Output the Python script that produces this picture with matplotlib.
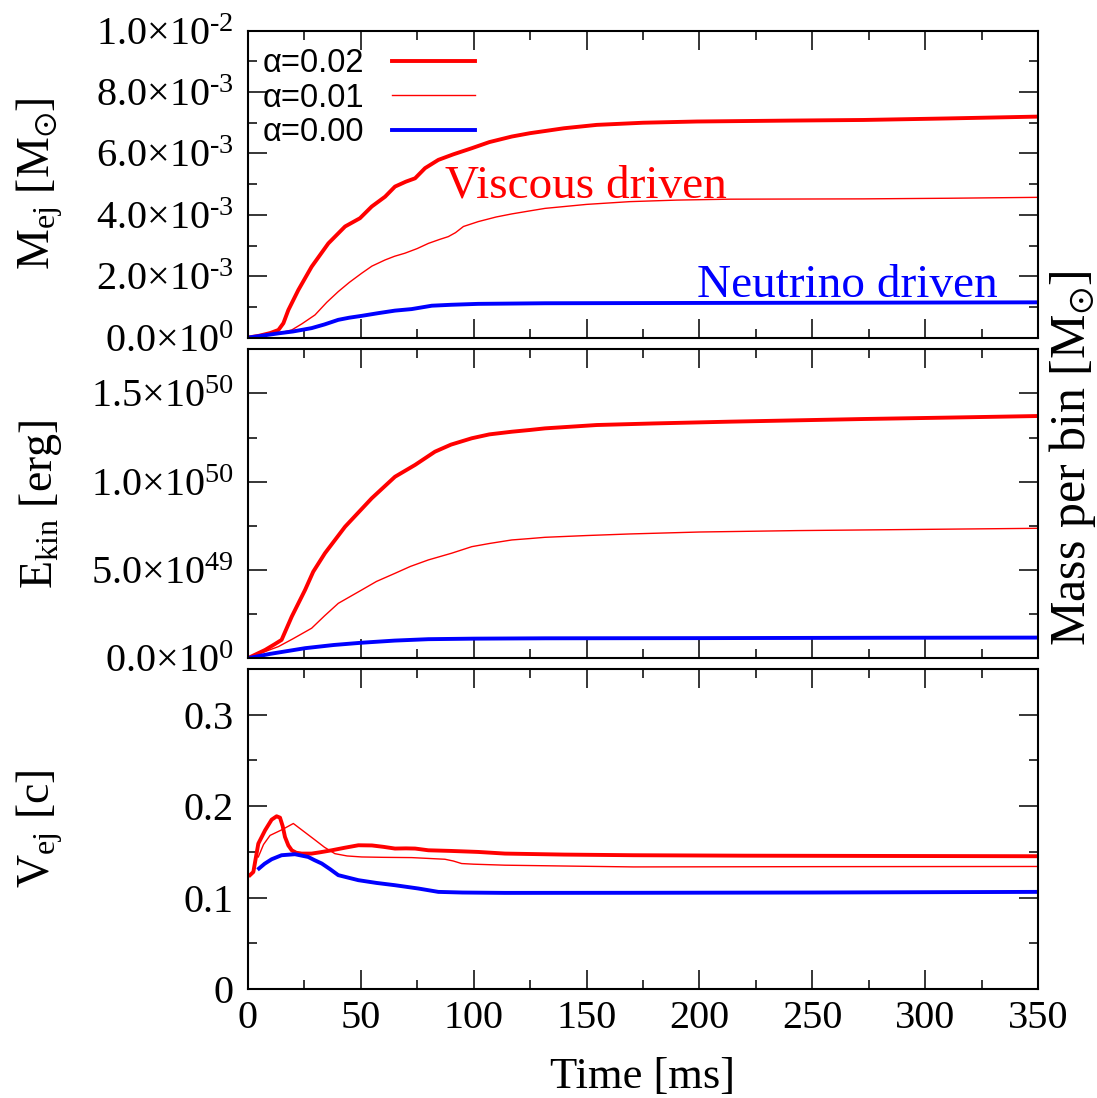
import numpy as np
import matplotlib
matplotlib.use("Agg")
import matplotlib.pyplot as plt
from matplotlib.ticker import MultipleLocator, FuncFormatter, NullFormatter
from matplotlib.font_manager import FontProperties
from matplotlib.lines import Line2D

plt.rcParams["font.family"] = ["Liberation Serif", "DejaVu Serif"]
plt.rcParams["mathtext.fontset"] = "custom"
plt.rcParams["mathtext.rm"] = "Liberation Serif"
plt.rcParams["mathtext.it"] = "Liberation Serif:italic"
plt.rcParams["mathtext.bf"] = "Liberation Serif:bold"
plt.rcParams["mathtext.fallback"] = "stix"

# ---------------- data ----------------
series_labels = ["α=0.02", "α=0.01", "α=0.00"]

# ejected mass [1e-3 Msun]
mej_t_002 = [0, 5, 10, 13.6, 15.8, 18, 22.4, 28.3, 35.7, 43.1, 49.7, 54.9, 60.8, 65.2, 70, 74.1,
             78.5, 84.4, 91, 99.2, 107, 116.9, 125, 131.6, 140, 154.5, 175, 198.8, 240, 272.5, 310, 350]
mej_v_002 = [0, 0.06, 0.15, 0.25, 0.47, 0.9, 1.55, 2.31, 3.07, 3.62, 3.89, 4.27, 4.59, 4.92, 5.08, 5.19,
             5.52, 5.79, 5.97, 6.17, 6.37, 6.55, 6.66, 6.73, 6.82, 6.93, 7.0, 7.04, 7.07, 7.09, 7.14, 7.2]
mej_t_001 = [0, 5, 10, 15, 19.5, 24, 29.8, 35, 40.1, 45, 50.5, 55, 60.8, 65, 69.6, 75, 80, 85, 88.8,
             92, 95.5, 102.1, 110, 116.9, 125, 131.6, 150, 169.2, 190, 213.5, 272.5, 310, 350]
mej_v_001 = [0, 0.05, 0.1, 0.17, 0.25, 0.45, 0.74, 1.15, 1.5, 1.8, 2.1, 2.33, 2.53, 2.65, 2.75, 2.9, 3.07,
             3.2, 3.29, 3.42, 3.62, 3.78, 3.93, 4.03, 4.13, 4.21, 4.34, 4.43, 4.48, 4.51, 4.52, 4.54, 4.57]
mej_t_000 = [0, 5, 13.6, 20, 28.3, 34, 40.1, 45, 50.5, 58, 65.2, 72.6, 81.5, 90, 102, 131.6, 200, 280, 350]
mej_v_000 = [0, 0.05, 0.14, 0.2, 0.31, 0.43, 0.58, 0.65, 0.71, 0.8, 0.88, 0.93, 1.04, 1.07, 1.1, 1.12,
             1.13, 1.14, 1.15]

# kinetic energy [1e49 erg]
ekin_t_002 = [0, 7.7, 12, 15, 19.5, 25.4, 29, 34.2, 43.1, 54.9, 65.2, 74.1, 82.9, 90, 99.2, 107, 116.9,
              125, 131.6, 154.5, 180, 213.5, 272.5, 310, 350]
ekin_v_002 = [0, 0.47, 0.8, 1.04, 2.36, 3.87, 4.9, 5.95, 7.45, 9.06, 10.28, 10.95, 11.7, 12.1, 12.46,
              12.68, 12.83, 12.93, 13.02, 13.21, 13.3, 13.4, 13.55, 13.63, 13.72]
ekin_t_001 = [0, 5, 13.6, 20, 28.3, 34, 40.1, 50.5, 57, 65.2, 72, 80, 90.3, 99.2, 107, 116.9, 125, 131.6,
              150, 169.2, 200, 243, 300, 350]
ekin_v_001 = [0, 0.25, 0.66, 1.1, 1.7, 2.4, 3.11, 3.87, 4.35, 4.81, 5.2, 5.57, 5.95, 6.32, 6.5, 6.7,
              6.78, 6.85, 6.95, 7.04, 7.15, 7.23, 7.3, 7.36]
ekin_t_000 = [0, 10, 25.4, 38, 50.5, 65, 80, 100, 131.6, 200, 280, 350]
ekin_v_000 = [0, 0.25, 0.57, 0.75, 0.88, 1.0, 1.08, 1.11, 1.13, 1.14, 1.16, 1.17]

# mean ejecta velocity [c]
vej_t_002 = [1, 2.5, 4.7, 7.7, 10.6, 12.8, 14.3, 15.5, 16.5, 18, 19.5, 21.5, 23.9, 28.3, 32, 37.2, 43,
             49, 55, 60, 65.2, 70, 74.1, 80, 90, 102, 113.9, 140, 170.7, 220, 280, 350]
vej_v_002 = [0.1245, 0.128, 0.159, 0.1736, 0.1852, 0.1889, 0.1874, 0.178, 0.1663, 0.157, 0.1517, 0.149,
             0.1481, 0.1481, 0.1495, 0.1517, 0.1545, 0.1572, 0.157, 0.1555, 0.1536, 0.1538, 0.1536,
             0.1517, 0.151, 0.1499, 0.1481, 0.147, 0.1463, 0.1458, 0.1455, 0.1452]
vej_t_001 = [4.7, 7, 9.9, 15, 20.2, 25, 29.8, 34, 38.6, 44, 50.5, 60, 72.6, 80, 87.3, 91, 94.7, 100,
             113.9, 140, 170.7, 250, 350]
vej_v_001 = [0.1444, 0.158, 0.168, 0.174, 0.181, 0.172, 0.163, 0.155, 0.148, 0.1455, 0.1444, 0.144,
             0.1437, 0.1428, 0.1419, 0.14, 0.1372, 0.1365, 0.1354, 0.1345, 0.1335, 0.1338, 0.134]
vej_t_000 = [5, 7.5, 10.6, 15, 20.9, 26.8, 29.5, 32.8, 36.5, 40.1, 49, 57, 65.2, 75.5, 84.4, 95, 113.9,
             170, 250, 350]
vej_v_000 = [0.1318, 0.137, 0.1419, 0.1463, 0.1474, 0.1444, 0.141, 0.1372, 0.131, 0.1245, 0.119, 0.116,
             0.1135, 0.1099, 0.1062, 0.1055, 0.1051, 0.1052, 0.1055, 0.1062]

MEJ_UNIT = 1e-3
EKIN_UNIT = 1e49

# ---------------- styles ----------------
RED = "#ff0000"
BLUE = "#0000ff"
styles = [dict(color=RED, lw=2.8), dict(color=RED, lw=1.0), dict(color=BLUE, lw=2.8)]

TICK_FS = 29
LABEL_FS = 32


def sci_label(v, pos):
    if v == 0:
        mant, ex = 0.0, 0
    else:
        ex = int(np.floor(np.log10(abs(v)) + 1e-9))
        mant = v / 10.0 ** ex
    return r"$\mathregular{%.1f{\times}10^{\text{%d}}}$" % (mant, ex)


def plain_label(v, pos):
    return "0" if abs(v) < 1e-12 else "%.1f" % v


fig = plt.figure(figsize=(10.97, 10.98), dpi=100)
left, width = 0.2258, 0.7207
ax1 = fig.add_axes([left, 0.6925, width, 0.2796])
ax2 = fig.add_axes([left, 0.4005, width, 0.2814])
ax3 = fig.add_axes([left, 0.0993, width, 0.2914])

mej = [(mej_t_002, mej_v_002), (mej_t_001, mej_v_001), (mej_t_000, mej_v_000)]
ekin = [(ekin_t_002, ekin_v_002), (ekin_t_001, ekin_v_001), (ekin_t_000, ekin_v_000)]
vej = [(vej_t_002, vej_v_002), (vej_t_001, vej_v_001), (vej_t_000, vej_v_000)]

for (t, v), st in zip(mej, styles):
    ax1.plot(t, np.asarray(v) * MEJ_UNIT, solid_joinstyle="round", **st)
for (t, v), st in zip(ekin, styles):
    ax2.plot(t, np.asarray(v) * EKIN_UNIT, solid_joinstyle="round", **st)
for (t, v), st in zip(vej, styles):
    ax3.plot(t, v, solid_joinstyle="round", **st)

ax1.set_ylim(0, 1e-2)
ax1.yaxis.set_major_locator(MultipleLocator(2e-3))
ax1.yaxis.set_minor_locator(MultipleLocator(1e-3))
ax1.yaxis.set_major_formatter(FuncFormatter(sci_label))

ax2.set_ylim(0, 1.75e50)
ax2.yaxis.set_major_locator(MultipleLocator(5e49))
ax2.yaxis.set_minor_locator(MultipleLocator(2.5e49))
ax2.yaxis.set_major_formatter(FuncFormatter(sci_label))

ax3.set_ylim(0, 0.35)
ax3.yaxis.set_major_locator(MultipleLocator(0.1))
ax3.yaxis.set_minor_locator(MultipleLocator(0.05))
ax3.yaxis.set_major_formatter(FuncFormatter(plain_label))

for ax in (ax1, ax2, ax3):
    ax.set_xlim(0, 350)
    ax.xaxis.set_major_locator(MultipleLocator(50))
    ax.xaxis.set_minor_locator(MultipleLocator(25))
    ax.tick_params(which="both", direction="in", top=True, right=True, width=1.1,
                   labelsize=TICK_FS, pad=10)
    ax.tick_params(which="major", length=13.5)
    ax.tick_params(which="minor", length=6.8)
    for sp in ax.spines.values():
        sp.set_linewidth(1.5)
for ax in (ax1, ax2):
    ax.xaxis.set_major_formatter(NullFormatter())
ax3.tick_params(axis="x", pad=8)

# legend: label first, line sample after it
handles = [Line2D([], [], **st) for st in styles]
ax1.legend(handles, series_labels, loc="upper left", bbox_to_anchor=(0.019, 0.942),
           markerfirst=False, frameon=False, prop=FontProperties(family="Liberation Sans", size=23.5),
           handlelength=2.55, handletextpad=0.85, labelspacing=0.1, borderaxespad=0, borderpad=0)

ax1.text(0.2496, 0.455, "Viscous driven", color=RED, fontsize=34, transform=ax1.transAxes,
         ha="left", va="baseline")
ax1.text(0.568, 0.1336, "Neutrino driven", color=BLUE, fontsize=34, transform=ax1.transAxes,
         ha="left", va="baseline")

fig.text(0.0365, 1 - 184 / 1098, r"M$_{\mathregular{ej}}$ [M$_{\odot}$]", rotation=90,
         ha="center", va="center", fontsize=LABEL_FS + 1)
fig.text(0.0365, 1 - 504 / 1098, r"E$_{\mathregular{kin}}$ [erg]", rotation=90,
         ha="center", va="center", fontsize=LABEL_FS + 1)
fig.text(0.0365, 1 - 829 / 1098, r"V$_{\mathregular{ej}}$ [c]", rotation=90,
         ha="center", va="center", fontsize=LABEL_FS + 1)
fig.text(643 / 1097, 1 - 1077 / 1098, "Time [ms]", ha="center", va="center", fontsize=LABEL_FS)
fig.text(1072 / 1097, 1 - 458 / 1098, r"Mass per bin [M$_{\odot}$]", rotation=90,
         ha="center", va="center", fontsize=36)

fig.savefig("out.png", dpi=100)
